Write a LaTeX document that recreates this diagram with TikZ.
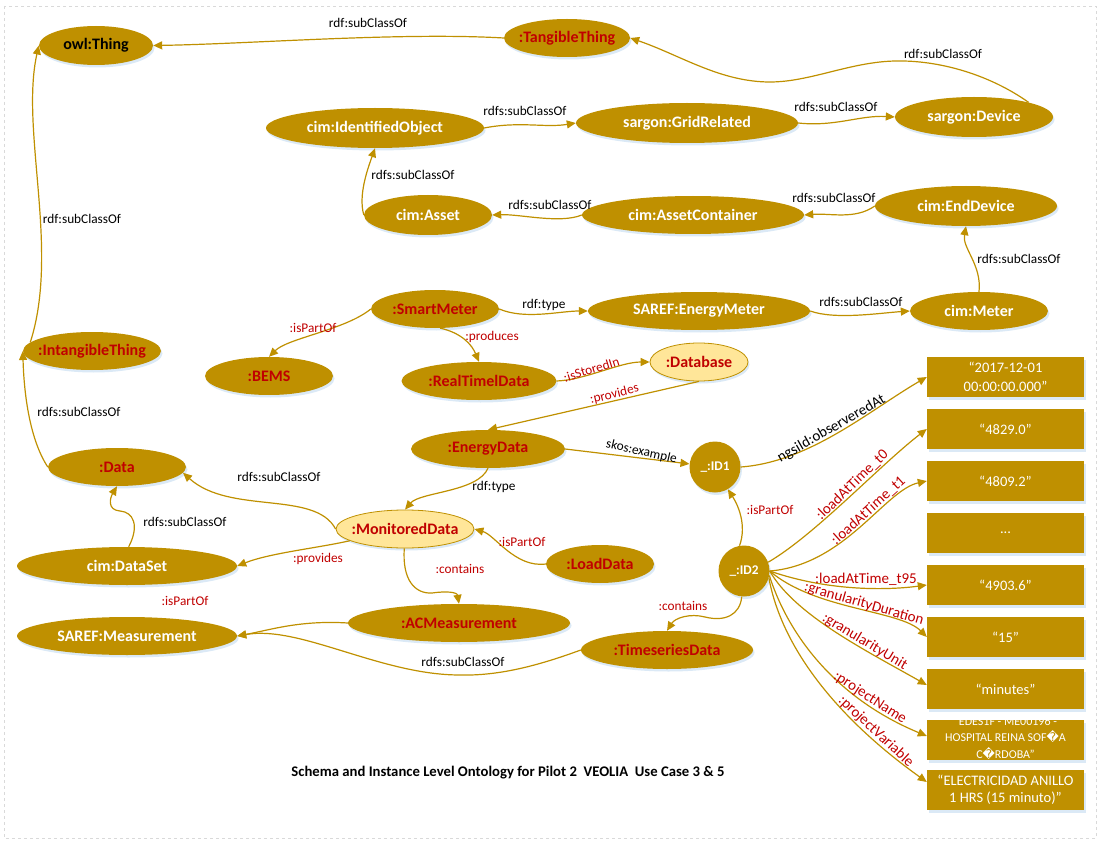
\documentclass[tikz,border=0pt]{standalone}
\usepackage{fontspec}
\setmainfont{Carlito}
\newfontfamily\repfont{DejaVu Sans}
\usetikzlibrary{shapes.geometric,arrows.meta,shadows}

\definecolor{gold}{HTML}{BF9000}
\definecolor{paleg}{HTML}{FFE699}
\definecolor{darkred}{HTML}{C00000}
\definecolor{framegray}{HTML}{D9D9D9}
\definecolor{glow}{HTML}{BDD7EE}

\newcommand\nodefnt{\fontsize{16}{19}\selectfont\bfseries}
\newcommand\blankfnt{\fontsize{13.3}{16}\selectfont\bfseries}
\newcommand\lblfnt{\fontsize{13.3}{16}\selectfont}
\newcommand\biglblfnt{\fontsize{15}{18}\selectfont}
\newcommand\litfnt{\fontsize{14.5}{19}\selectfont}
\newcommand\litsmallfnt{\fontsize{12}{16.5}\selectfont}
\newcommand\titlefnt{\fontsize{14.7}{17}\selectfont\bfseries}
\newcommand\repl{{\repfont\char"FFFD}}

\tikzset{
  glowshadow/.style={drop shadow={shadow xshift=1.5pt,shadow yshift=-2.5pt,fill=glow,opacity=0.55}},
  cls/.style={ellipse, fill=gold, text=white, font=\nodefnt, inner sep=0pt, glowshadow,
    execute at begin node={\hbox to 0pt\bgroup\hss},
    execute at end node={\hss\egroup}},
  inst/.style={cls, text=darkred},
  pale/.style={cls, fill=paleg, draw=gold, line width=0.8pt, text=darkred},
  blank/.style={circle, fill=gold, text=white, font=\blankfnt, inner sep=0pt, minimum size=51pt, glowshadow},
  lit/.style={rectangle, fill=gold, text=white, font=\litfnt, align=center, inner sep=0pt,
    minimum width=157pt, minimum height=40pt, glowshadow},
  littxt/.style={text=white, font=\litsmallfnt, align=center, inner sep=0pt},
  edge/.style={draw=gold, line width=1.2pt, -{Triangle[length=9pt,width=8pt]}},
  lbl/.style={font=\lblfnt, text=black, inner sep=1pt},
  rlbl/.style={lbl, text=darkred},
  onlink/.style={anchor=south, inner sep=0.5pt},
  fanlbl/.style={rlbl, onlink, font=\biglblfnt},
}

\begin{document}
\begin{tikzpicture}[x=1pt,y=-1pt]
\useasboundingbox (0,0) rectangle (1103,845);
\draw[framegray, dashed, line width=0.8pt] (4,6) rectangle (1096,838);

% class and instance nodes
\node[cls, text=black, minimum width=114pt, minimum height=39pt] (owl) at (96,45.5) {owl:Thing};
\node[inst, minimum width=126pt, minimum height=38pt] (tang) at (567,38) {:TangibleThing};
\node[cls, minimum width=218pt, minimum height=40pt] (idobj) at (375,128) {cim:IdentifiedObject};
\node[cls, minimum width=222pt, minimum height=40pt] (grid) at (687,123) {sargon:GridRelated};
\node[cls, minimum width=158pt, minimum height=40pt] (dev) at (974,117) {sargon:Device};
\node[cls, minimum width=128pt, minimum height=40pt] (asset) at (428,215) {cim:Asset};
\node[cls, minimum width=222pt, minimum height=38pt] (acont) at (693,215) {cim:AssetContainer};
\node[cls, minimum width=182pt, minimum height=40pt] (enddev) at (966,206) {cim:EndDevice};
\node[inst, minimum width=128pt, minimum height=38pt] (sm) at (435,309) {:SmartMeter};
\node[cls, minimum width=222pt, minimum height=38pt] (em) at (699,311) {SAREF:EnergyMeter};
\node[cls, minimum width=138pt, minimum height=38pt] (meter) at (979,311) {cim:Meter};
\node[inst, minimum width=138pt, minimum height=38pt] (intang) at (92,351) {:IntangibleThing};
\node[inst, minimum width=128pt, minimum height=38pt] (bems) at (269,376) {:BEMS};
\node[inst, minimum width=155pt, minimum height=38pt] (rtd) at (479,381) {:RealTimelData};
\node[pale, minimum width=98pt, minimum height=38pt] (db) at (699,362) {:Database};
\node[inst, minimum width=154pt, minimum height=38pt] (ed) at (488,449) {:EnergyData};
\node[inst, minimum width=138pt, minimum height=38pt] (data) at (117,467) {:Data};
\node[pale, minimum width=138pt, minimum height=38pt] (md) at (405,529) {:MonitoredData};
\node[inst, minimum width=108pt, minimum height=38pt] (ld) at (600,564) {:LoadData};
\node[cls, minimum width=220pt, minimum height=38pt] (ds) at (127,566) {cim:DataSet};
\node[inst, minimum width=222pt, minimum height=38pt] (ac) at (459,623) {:ACMeasurement};
\node[cls, minimum width=220pt, minimum height=38pt] (meas) at (127,636) {SAREF:Measurement};
\node[inst, minimum width=172pt, minimum height=38pt] (ts) at (667,650) {:TimeseriesData};
\node[blank] (id1) at (715,467) {\_:ID1};
\node[blank] (id2) at (744,571) {\_:ID2};

% literal values
\node[lit] (r1) at (1005.5,377) {“2017-12-01\\00:00:00.000"};
\node[lit] (r2) at (1005.5,429) {“4829.0”};
\node[lit] (r3) at (1005.5,481) {“4809.2”};
\node[lit] (r4) at (1005.5,533) {...};
\node[lit] (r5) at (1005.5,585) {“4903.6”};
\node[lit] (r6) at (1005.5,637) {“15”};
\node[lit] (r7) at (1005.5,689) {“minutes”};
\node[lit] (r8) at (1005.5,740) {};
\node[littxt] (r8t) at ([yshift=2pt]r8.center) {“EDES1F - ME00196 -\\HOSPITAL REINA SOF\repl A\\C\repl RDOBA”};
\node[lit, font=\fontsize{14.5}{17}\selectfont] (r9) at (1005.5,790) {“ELECTRICIDAD ANILLO\\1 HRS (15 minuto)”};

% connectors
\draw[edge] (tang.west) .. controls (400,32) and (250,44) .. (owl.east);
\draw[edge] (dev.15) .. controls (990,75) and (940,60) .. (895,61) .. controls (850,62) and (810,82) .. (770,82) .. controls (720,82) and (680,55) .. (tang.east);
\draw[edge] (idobj.east) .. controls (520,121) and (545,128) .. (grid.west);
\draw[edge] (grid.east) .. controls (835,127) and (860,115) .. (dev.west);
\draw[edge] (asset.west) .. controls (358,195) and (368,168) .. (idobj.south);
\draw[edge] (acont.west) .. controls (560,224) and (520,214) .. (asset.east);
\draw[edge] (enddev.west) .. controls (855,220) and (830,213) .. (acont.east);
\draw[edge] (meter.north) .. controls (982,265) and (962,248) .. (enddev.south);
\draw[edge] (sm.east) .. controls (525,320) and (560,311) .. (em.west);
\draw[edge] (em.east) .. controls (835,320) and (880,313) .. (meter.west);
\draw[edge] (sm.west) .. controls (345,330) and (288,338) .. (bems.north);
\draw[edge] (sm.-75) .. controls (462,333) and (472,345) .. (rtd.north);
\draw[edge] (rtd.east) .. controls (585,380) and (620,362) .. (db.west);
\draw[edge] (db.south) -- (ed.north);
\draw[edge] (ed.east) -- (id1);
\draw[edge] (ed.south) .. controls (478,492) and (420,492) .. (md.north);
\draw[edge] (md.west) .. controls (315,490) and (230,515) .. (data.-5);
\draw[edge] (ds.85) .. controls (140,525) and (133,512) .. (120,511) .. controls (107,510) and (110,498) .. (data.south);
\draw[edge] (data.west) .. controls (30,440) and (24,395) .. (intang.west);
\draw[edge] (intang.172) .. controls (60,250) and (20,130) .. (owl.west);
\draw[edge] (md.192) .. controls (318,548) and (270,553) .. (ds.east);
\draw[edge] (md.-92) .. controls (402,580) and (415,594) .. (432,593) .. controls (446,591) and (457,592) .. (ac.north);
\draw[edge] (ld.west) .. controls (515,568) and (495,535) .. (md.east);
\draw[edge] (ac.west) .. controls (300,620) and (270,630) .. (meas.east);
\draw[edge] (ts.west) .. controls (540,665) and (500,676) .. (460,675) .. controls (380,675) and (300,625) .. (meas.east);
\draw[edge] (id2.100) .. controls (747,525) and (738,505) .. (id1.-60);
\draw[edge] (id2.-95) .. controls (740,615) and (725,622) .. (705,617) .. controls (690,613) and (675,618) .. (ts.north);
\draw[edge] (id1.east) .. controls (810,462) and (870,410) .. (r1.west);
\draw[edge] (id2.20) .. controls (815,535) and (880,465) .. (r2.west);
\draw[edge] (id2.east) .. controls (845,565) and (885,490) .. (r3.west);
\draw[edge] (id2.east) .. controls (830,592) and (890,590) .. (r5.west);
\draw[edge] (id2.east) .. controls (815,610) and (900,610) .. (r6.west);
\draw[edge] (id2.east) .. controls (795,615) and (865,650) .. ([yshift=4pt]r7.west);
\draw[edge] (id2.-10) .. controls (790,640) and (840,700) .. ([yshift=4pt]r8.west);
\draw[edge] (id2.-15) .. controls (782,650) and (840,720) .. ([yshift=8pt]r9.west);

% connector labels
\node[lbl] (lTO) at (368,23) {rdf:subClassOf};
\node[lbl] (lDT) at (943,54) {rdf:subClassOf};
\node[lbl] (lIG) at (525,111) {rdfs:subClassOf};
\node[lbl] (lGD) at (836,107) {rdfs:subClassOf};
\node[lbl] (lAI) at (413,175) {rdfs:subClassOf};
\node[lbl] (lCA) at (550,205) {rdfs:subClassOf};
\node[lbl] (lEC) at (834,198) {rdfs:subClassOf};
\node[lbl] (lME) at (1019,259) {rdfs:subClassOf};
\node[lbl] (lIO) at (82,219) {rdf:subClassOf};
\node[lbl] (lSE) at (544,305) {rdf:type};
\node[lbl] (lEM) at (861,302) {rdfs:subClassOf};
\node[rlbl] (lSB) at (313,328) {:isPartOf};
\node[rlbl] (lSR) at (492,337) {:produces};
\node[rlbl, onlink, rotate=17] (lRD) at (593,374.5) {:isStoredIn};
\node[rlbl, onlink, rotate=14] (lDE) at (616,400.5) {:provides};
\node[lbl] (lDI) at (79,412) {rdfs:subClassOf};
\node[lbl, onlink, rotate=-13] (lEI) at (640,458) {skos:example};
\node[fanlbl, text=black, rotate=30] (lIR) at (835,435) {ngsild:observeredAt};
\node[fanlbl, rotate=44] (lT0) at (857,490) {:loadAtTime\_t0};
\node[fanlbl, rotate=42] (lT1) at (873,516) {:loadAtTime\_t1};
\node[lbl] (lMD) at (279,477) {rdfs:subClassOf};
\node[lbl] (lEMd) at (494,487) {rdf:type};
\node[rlbl] (lII) at (770,510) {:isPartOf};
\node[lbl] (lSD) at (185,522) {rdfs:subClassOf};
\node[rlbl] (lLM) at (522,542) {:isPartOf};
\node[rlbl] (lMS) at (318,559) {:provides};
\node[rlbl] (lMA) at (460,569) {:contains};
\node[fanlbl] (lT95) at (866,586) {:loadAtTime\_t95};
\node[fanlbl, rotate=-16] (lGDu) at (862,611) {:granularityDuration};
\node[fanlbl, rotate=-31] (lGU) at (861,648) {:granularityUnit};
\node[fanlbl, rotate=-33] (lPN) at (866,704) {:projectName};
\node[fanlbl, rotate=-43] (lPV) at (871,737) {:projectVariable};
\node[rlbl] (lMeD) at (185,601) {:isPartOf};
\node[rlbl] (lIT) at (683,606) {:contains};
\node[lbl] (lTM) at (463,662) {rdfs:subClassOf};

% caption
\node[font=\titlefnt] (title) at (508,773) {Schema and Instance Level Ontology for Pilot 2\ \ VEOLIA\ \ Use Case 3 \& 5};
\end{tikzpicture}
\end{document}
